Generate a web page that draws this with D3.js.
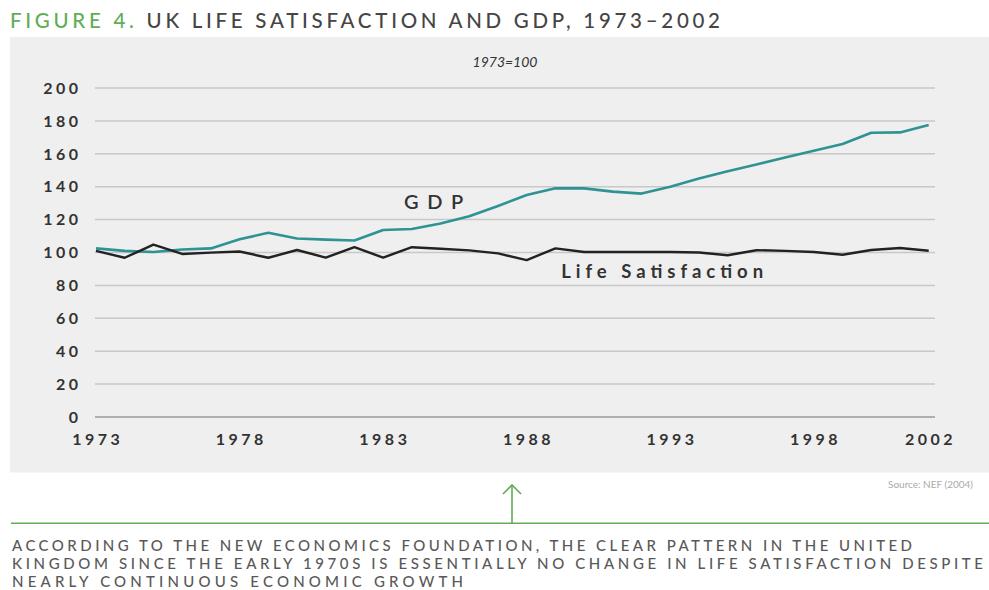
<!DOCTYPE html>
<html>
<head>
<meta charset="utf-8">
<script src="https://cdn.jsdelivr.net/npm/d3@7"></script>
<style>
  html, body { margin: 0; padding: 0; background: #ffffff; }
  svg { display: block; font-family: Lato, "Open Sans", sans-serif; }
</style>
</head>
<body>
<svg id="chart" width="989" height="590"></svg>
<script>
// Years on the horizontal axis
const years = d3.range(1973, 2003);

// GDP index, 1973 = 100
const gdp = [102.5, 101, 100.3, 101.8, 102.5, 108, 112, 108.5, 107.8, 107.3,
             113.7, 114.3, 117.6, 122, 128.3, 135, 139, 139, 137, 135.8,
             140, 145, 149.4, 153.5, 157.7, 161.9, 166, 172.8, 173, 177.5];

// Life satisfaction index, 1973 = 100
const lifeSat = [101, 96.8, 104.8, 99.1, 99.9, 100.6, 96.8, 101.5, 96.9, 103.2,
                 96.9, 103.2, 102.3, 101.3, 99.5, 95.4, 102.5, 100.3, 100.3, 100.3,
                 100.3, 100, 98.3, 101.4, 101, 100.3, 98.6, 101.5, 102.7, 101.1];

const yTicks = [0, 20, 40, 60, 80, 100, 120, 140, 160, 180, 200];
const xTickYears = [1973, 1978, 1983, 1988, 1993, 1998, 2002];

const bodyLines = [
  "ACCORDING TO THE NEW ECONOMICS FOUNDATION, THE CLEAR PATTERN IN THE UNITED",
  "KINGDOM SINCE THE EARLY 1970S IS ESSENTIALLY NO CHANGE IN LIFE SATISFACTION DESPITE",
  "NEARLY CONTINUOUS ECONOMIC GROWTH"
];
const bodyWidths = [900, 971, 451];

const svg = d3.select("#chart");

const x = d3.scaleLinear().domain([1973, 2002]).range([96, 928.7]);
const y = d3.scaleLinear().domain([0, 200]).range([417, 88]);

const green = "#62ad56";
const teal = "#2f9393";
const ink = "#333333";

// Title
const title = svg.append("text")
  .attr("x", 10).attr("y", 28)
  .attr("font-size", 20.5).attr("font-weight", 500)
  .attr("textLength", 710).attr("lengthAdjust", "spacing");
title.append("tspan").attr("fill", green).text("FIGURE 4.");
title.append("tspan").attr("fill", "#454545").text(" UK LIFE SATISFACTION AND GDP, 1973\u20132002");

// Chart panel
svg.append("rect")
  .attr("x", 10).attr("y", 37)
  .attr("width", 985).attr("height", 435.5)
  .attr("fill", "#efefef");

svg.append("text")
  .attr("x", 505).attr("y", 66.5)
  .attr("text-anchor", "middle")
  .attr("font-size", 14).attr("font-style", "italic")
  .attr("fill", ink)
  .text("1973=100");

// Horizontal gridlines
svg.append("g").selectAll("line")
  .data(yTicks)
  .join("line")
  .attr("x1", 95).attr("x2", 935)
  .attr("y1", d => y(d)).attr("y2", d => y(d))
  .attr("stroke", d => d === 0 ? "#9a9a9a" : "#c8c8c8")
  .attr("stroke-width", 1.5);

// Y tick labels
svg.append("g").selectAll("text")
  .data(yTicks)
  .join("text")
  .attr("x", 78 + 3.5).attr("y", d => y(d))
  .attr("dy", "0.36em")
  .attr("text-anchor", "end")
  .attr("font-size", 16).attr("font-weight", 700)
  .attr("letter-spacing", 3.5)
  .attr("fill", ink)
  .text(d => d);

// X tick labels
svg.append("g").selectAll("text")
  .data(xTickYears)
  .join("text")
  .attr("x", d => x(d) + 1.75).attr("y", 444.5)
  .attr("text-anchor", "middle")
  .attr("font-size", 16).attr("font-weight", 700)
  .attr("letter-spacing", 3.5)
  .attr("fill", ink)
  .text(d => d);

// Series lines
const line = d3.line()
  .x((d, i) => x(years[i]))
  .y(d => y(d));

svg.append("path")
  .datum(gdp)
  .attr("d", line)
  .attr("fill", "none")
  .attr("stroke", teal)
  .attr("stroke-width", 2.6)
  .attr("stroke-linejoin", "round");

svg.append("path")
  .datum(lifeSat)
  .attr("d", line)
  .attr("fill", "none")
  .attr("stroke", "#222")
  .attr("stroke-width", 2.4)
  .attr("stroke-linejoin", "round");

// Series labels
svg.append("text")
  .attr("x", x(1983.73)).attr("y", y(126.4))
  .attr("font-size", 20).attr("font-weight", 600)
  .attr("fill", ink)
  .attr("textLength", 59).attr("lengthAdjust", "spacing")
  .text("GDP");

svg.append("text")
  .attr("x", x(1989.2)).attr("y", y(84.3))
  .attr("font-size", 18.5).attr("font-weight", 700)
  .attr("fill", ink)
  .attr("textLength", 202).attr("lengthAdjust", "spacing")
  .text("Life Satisfaction");

// Source note
svg.append("text")
  .attr("x", 888).attr("y", 488)
  .attr("font-size", 10)
  .attr("fill", "#aaaaaa")
  .text("Source: NEF (2004)");

// Arrow and divider
svg.append("line")
  .attr("x1", 11).attr("x2", 989)
  .attr("y1", 523.3).attr("y2", 523.3)
  .attr("stroke", green).attr("stroke-width", 1.6);

svg.append("line")
  .attr("x1", 512).attr("x2", 512)
  .attr("y1", 523.3).attr("y2", 485)
  .attr("stroke", green).attr("stroke-width", 1.6);

svg.append("polyline")
  .attr("points", "503,494 512,485 521,494")
  .attr("fill", "none")
  .attr("stroke", green).attr("stroke-width", 1.6);

// Caption
svg.append("g").selectAll("text")
  .data(bodyLines)
  .join("text")
  .attr("x", 12)
  .attr("y", (d, i) => 550.5 + i * 18)
  .attr("font-size", 15).attr("font-weight", 500)
  .attr("fill", "#595959")
  .attr("textLength", (d, i) => bodyWidths[i])
  .attr("lengthAdjust", "spacing")
  .text(d => d);
</script>
</body>
</html>
